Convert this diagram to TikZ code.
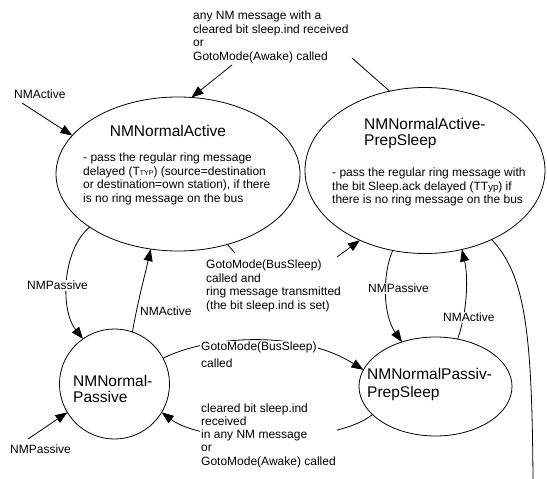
\documentclass[tikz,border=0pt]{standalone}
\usepackage{fontspec}
\setmainfont{Liberation Sans}
\usetikzlibrary{arrows.meta,shapes.geometric}
\begin{document}
\begin{tikzpicture}[x=1pt,y=-1pt,
  state/.style={draw, ellipse, line width=0.8pt, inner sep=0pt, outer sep=0pt},
  arr/.style={line width=0.8pt, -{Triangle[length=12pt,width=9pt]}},
  wire/.style={line width=0.8pt},
  txt/.style={font=\fontsize{12}{13.8}\selectfont, inner sep=0pt, align=left, anchor=north west},
  lbl/.style={txt, fill=white, inner sep=1pt},
  title/.style={font=\fontsize{15.5}{16}\selectfont, inner sep=0pt, align=left, anchor=north west}]
\useasboundingbox (0,0) rectangle (547,479);

% states
\node[state, minimum width=244pt, minimum height=154pt] (e1) at (178,174) {};
\node[state, minimum width=240pt, minimum height=166pt] (e2) at (425,170.5) {};
\node[state, circle, minimum size=110pt] (c) at (114.5,384) {};
\node[state, minimum width=153pt, minimum height=99pt] (p) at (435.5,386.5) {};

% free ends of the transitions
\coordinate (topsrc) at (232,65);
\coordinate (topend) at (352,58);
\coordinate (actsrc) at (22,103);
\coordinate (bs1end) at (235,253);
\coordinate (bs1src) at (337,257);
\coordinate (down) at (533,479);
\coordinate (passrc) at (28,439);

% transitions
\draw[arr] (topsrc) -- (e1.80);
\draw[wire] (e2.114) -- (topend);
\draw[arr] (actsrc) -- (e1.160);
\draw[arr] (e1.211) .. controls (62,250) and (60,310) .. (c.125);
\draw[arr] (c.71) .. controls (138,300) and (145,275) .. (e1.250);
\draw[wire] (e1.305) -- (bs1end);
\draw[arr] (bs1src) -- (e2.227);
\draw[arr] (e2.248) .. controls (382,275) and (383,315) .. (p.127);
\draw[arr] (p.65) .. controls (468,310) and (468,275) .. (e2.295);
\draw[wire] (e2.314) .. controls (525,275) and (532,330) .. (down);
\draw[arr] (c.28) .. controls (210,335) and (300,330) .. (p.167);
\draw[arr] (p.204) .. controls (335,445) and (205,445) .. (c.329);
\draw[arr] (passrc) -- (c.211);

% state names and actions
\node[title, anchor=north] (t1) at (168,125.5) {NMNormalActive};
\node[txt] (b1) at (83,152.5) {- pass the regular ring message\\
delayed (T{\fontsize{7}{7}\selectfont TYP}) (source=destination\\
or destination=own station), if there\\
is no ring message on the bus};
\node[title] (t2) at (364,118.5) {NMNormalActive-\\PrepSleep};
\node[txt] (b2) at (332,167.5) {- pass the regular ring message with\\
the bit Sleep.ack delayed (TT{\fontsize{9.5}{10}\selectfont yp}) if\\
there is no ring message on the bus};
\node[title] (t3) at (73,375.5) {NMNormal-\\Passive};
\node[title] (t4) at (367,368.5) {NMNormalPassiv-\\[1.5pt]PrepSleep};

% transition labels
\node[txt] (l1) at (193,10.5) {any NM message with a\\
cleared bit sleep.ind received\\
or\\
GotoMode(Awake) called};
\node[txt] (l2) at (14,89.5) {NMActive};
\node[lbl] (l3) at (26,279.5) {NMPassive};
\node[txt] (l4) at (140,306.5) {NMActive};
\node[txt] (l5) at (206,259.5) {GotoMode(BusSleep)\\
called and\\
ring message transmitted\\
(the bit sleep.ind is set)};
\node[lbl] (l6) at (367,282.5) {NMPassive};
\node[lbl] (l7) at (442,311.5) {NMActive};
\node[lbl] (l8) at (200,340.5) {GotoMode(BusSleep)\\[3pt]called};
\node[lbl, font=\fontsize{12}{13.2}\selectfont] (l9) at (200,402.5) {cleared bit sleep.ind\\
received\\
in any NM message\\
or\\
GotoMode(Awake) called};
\node[txt] (l10) at (10,444.5) {NMPassive};
\end{tikzpicture}
\end{document}
